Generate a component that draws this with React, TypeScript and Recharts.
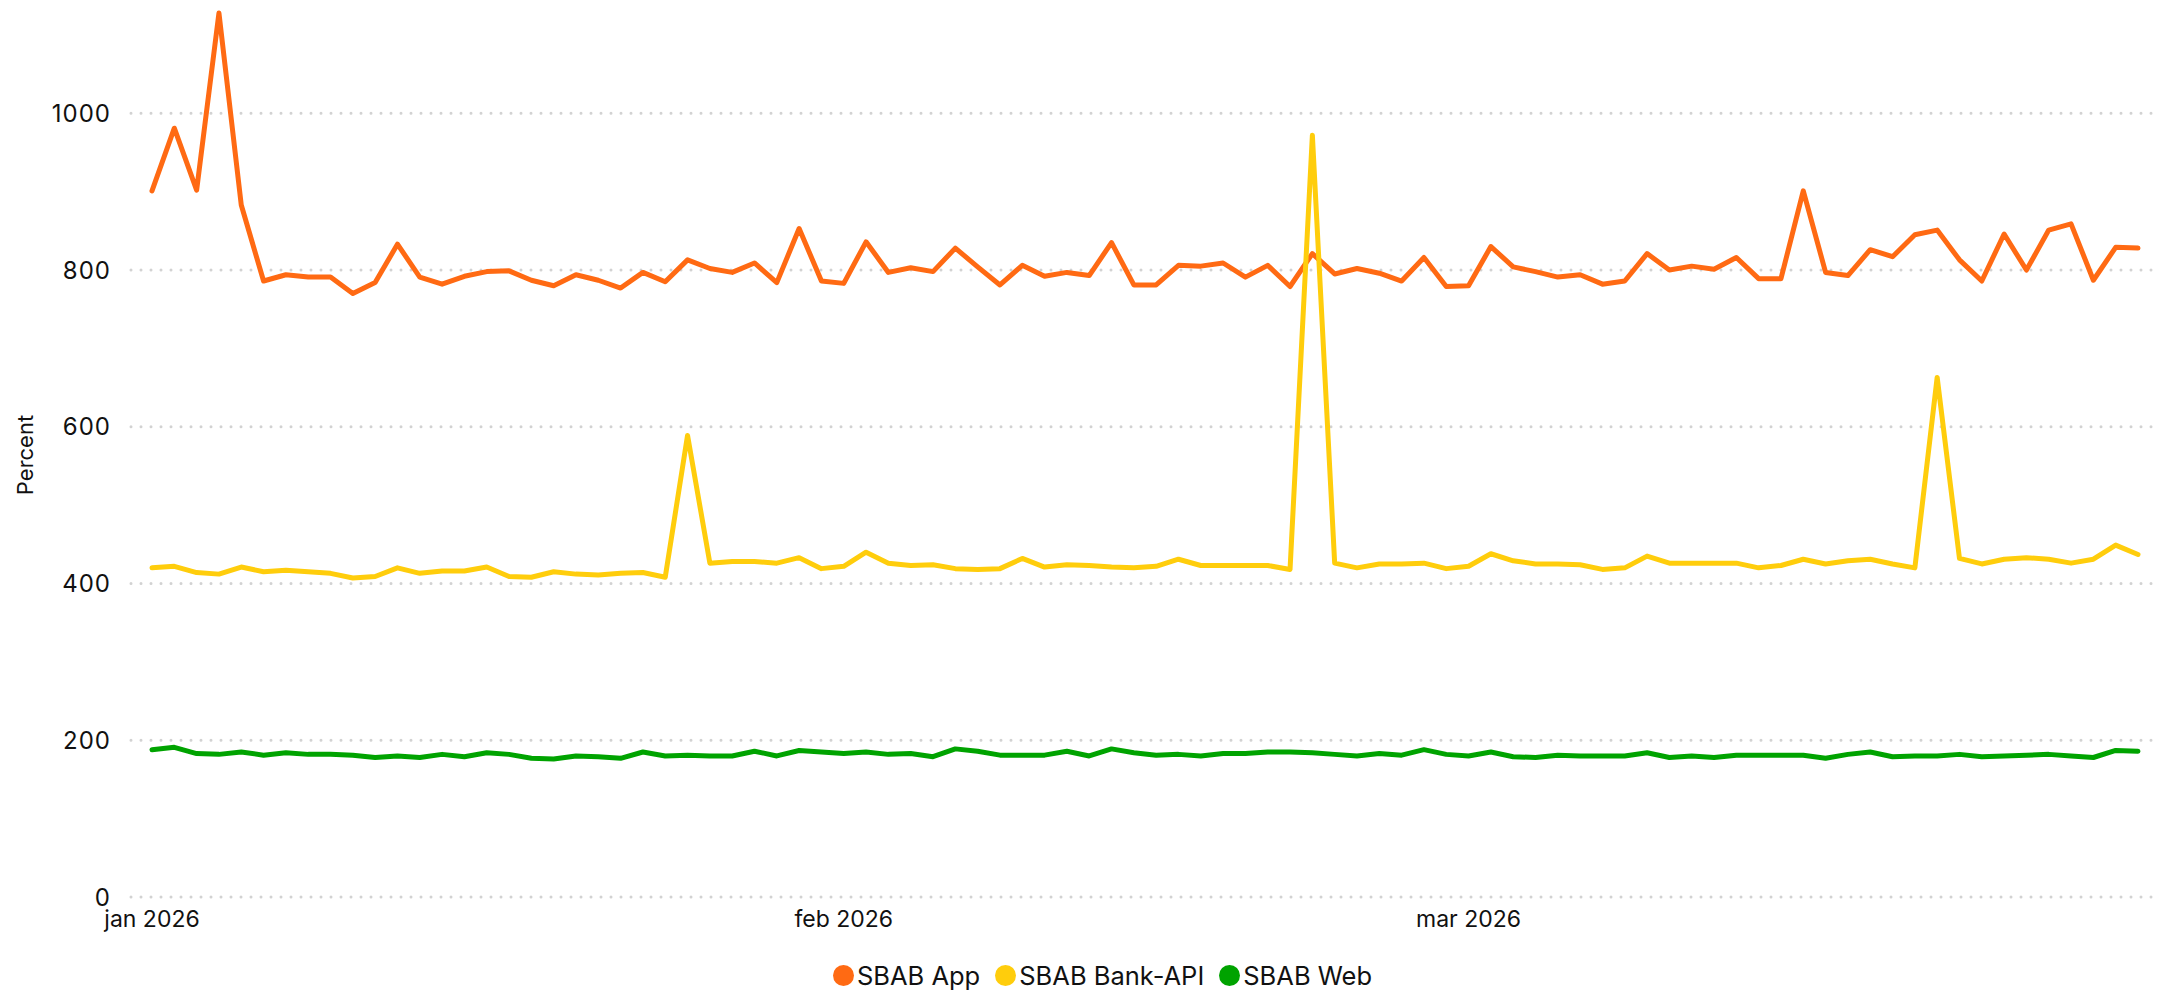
import { CartesianGrid, Legend, Line, LineChart, XAxis, YAxis } from 'recharts';

const START = Date.UTC(2026, 0, 1);
const DAY = 86400000;

// daily values, 1 jan .. 31 mar 2026
const appValues = [
  901, 981, 902, 1128, 883, 786, 794, 791, 791, 770,
  784, 833, 791, 782, 792, 798, 799, 787, 780, 794,
  787, 777, 797, 785, 813, 802, 797, 809, 784, 853,
  786, 783, 836, 797, 803, 798, 828, 804, 781, 806,
  792, 797, 793, 835, 781, 781, 806, 805, 809, 791,
  806, 779, 821, 795, 802, 796, 786, 816, 779, 780,
  830, 804, 798, 791, 794, 782, 786, 821, 800, 805,
  801, 816, 789, 789, 901, 797, 793, 826, 817, 845,
  851, 813, 786, 846, 800, 851, 859, 787, 829, 828,
];

const bankApiValues = [
  420, 422, 414, 412, 421, 415, 417, 415, 413, 407,
  409, 420, 413, 416, 416, 421, 409, 408, 415, 412,
  411, 413, 414, 408, 589, 426, 428, 428, 426, 433,
  419, 422, 440, 426, 423, 424, 419, 418, 419, 432,
  421, 424, 423, 421, 420, 422, 431, 423, 423, 423,
  423, 418, 972, 426, 420, 425, 425, 426, 419, 422,
  438, 429, 425, 425, 424, 418, 420, 435, 426, 426,
  426, 426, 420, 423, 431, 425, 429, 431, 425, 420,
  663, 432, 425, 431, 433, 431, 426, 431, 449, 437,
];

const webValues = [
  188, 191, 183, 182, 185, 181, 184, 182, 182, 181,
  178, 180, 178, 182, 179, 184, 182, 177, 176, 180,
  179, 177, 185, 180, 181, 180, 180, 186, 180, 187,
  185, 183, 185, 182, 183, 179, 189, 186, 181, 181,
  181, 186, 180, 189, 184, 181, 182, 180, 183, 183,
  185, 185, 184, 182, 180, 183, 181, 188, 182, 180,
  185, 179, 178, 181, 180, 180, 180, 184, 178, 180,
  178, 181, 181, 181, 181, 177, 182, 185, 179, 180,
  180, 182, 179, 180, 181, 182, 180, 178, 187, 186,
];

const monthTicks = [Date.UTC(2026, 0, 1), Date.UTC(2026, 1, 1), Date.UTC(2026, 2, 1)];
const monthLabels = ['jan 2026', 'feb 2026', 'mar 2026'];
const yTicks = [0, 200, 400, 600, 800, 1000];

const series = [
  { key: 'app', name: 'SBAB App', color: '#ff6a13' },
  { key: 'bankApi', name: 'SBAB Bank-API', color: '#ffcd0c' },
  { key: 'web', name: 'SBAB Web', color: '#00a300' },
];

const data = appValues.map((v, i) => ({
  t: START + i * DAY,
  app: v,
  bankApi: bankApiValues[i],
  web: webValues[i],
}));

const FONT = 'Inter, "Liberation Sans", sans-serif';

function DottedLine(props: any) {
  const { x1, x2, y1, y2 } = props;
  // only the value ticks get a line, not the top edge
  if (y1 < 30) return <g />;
  return (
    <line
      x1={x1}
      x2={x2}
      y1={y1}
      y2={y2}
      stroke="#d2d2d2"
      strokeWidth={3}
      strokeLinecap="round"
      strokeDasharray="0 10"
    />
  );
}

function MonthTick({ x, y, payload }: any) {
  const idx = monthTicks.indexOf(payload.value);
  return (
    <text x={x} y={y + 30} textAnchor="middle" fontFamily={FONT} fontSize={23} fill="#111">
      {monthLabels[idx]}
    </text>
  );
}

function ValueTick({ x, y, payload }: any) {
  return (
    <text
      x={x}
      y={y}
      textAnchor="end"
      dominantBaseline="central"
      fontFamily={FONT}
      fontSize={24}
      letterSpacing={1}
      fill="#111"
    >
      {payload.value}
    </text>
  );
}

function PercentLabel({ viewBox }: any) {
  const cx = 25;
  const cy = viewBox.y + viewBox.height / 2;
  return (
    <text
      x={cx}
      y={cy}
      transform={`rotate(-90, ${cx}, ${cy})`}
      textAnchor="middle"
      dominantBaseline="central"
      fontFamily={FONT}
      fontSize={22}
      fill="#111"
    >
      Percent
    </text>
  );
}

function LegendContent({ payload }: any) {
  return (
    <div
      style={{
        height: 40,
        display: 'flex',
        alignItems: 'center',
        justifyContent: 'center',
        paddingLeft: 68,
        fontFamily: FONT,
        fontSize: 25.5,
        color: '#111',
      }}
    >
      {(payload ?? []).map((entry: any) => (
        <div key={entry.value} style={{ display: 'flex', alignItems: 'center', marginRight: 15 }}>
          <span
            style={{
              width: 21,
              height: 21,
              borderRadius: '50%',
              background: entry.color,
              marginRight: 3,
              display: 'inline-block',
            }}
          />
          <span>{entry.value}</span>
        </div>
      ))}
    </div>
  );
}

export default function App() {
  const yMax = Math.max(...appValues, ...bankApiValues, ...webValues);
  return (
    <div style={{ position: 'absolute', left: 0, top: 0, width: 2169, height: 999, background: '#fff' }}>
      <LineChart width={2169} height={999} data={data} margin={{ top: 13, right: 17, bottom: 4, left: 0 }}>
        <CartesianGrid vertical={false} horizontal={(p: any) => <DottedLine key={`g-${p.y1}`} {...p} />} />
        <XAxis
          dataKey="t"
          type="number"
          domain={['dataMin', 'dataMax']}
          ticks={monthTicks}
          tick={<MonthTick />}
          tickLine={false}
          axisLine={false}
          tickSize={0}
          tickMargin={0}
          height={58}
          padding={{ left: 21, right: 14 }}
        />
        <YAxis
          type="number"
          domain={[0, yMax]}
          ticks={yTicks}
          width={131}
          tickLine={false}
          axisLine={false}
          tickSize={0}
          tickMargin={20}
          tick={<ValueTick />}
          label={PercentLabel}
        />
        <Legend verticalAlign="bottom" content={<LegendContent />} />
        {series.map((s) => (
          <Line
            key={s.key}
            type="linear"
            dataKey={s.key}
            name={s.name}
            stroke={s.color}
            strokeWidth={5}
            strokeLinejoin="round"
            strokeLinecap="round"
            dot={false}
            activeDot={false}
            isAnimationActive={false}
          />
        ))}
      </LineChart>
    </div>
  );
}
